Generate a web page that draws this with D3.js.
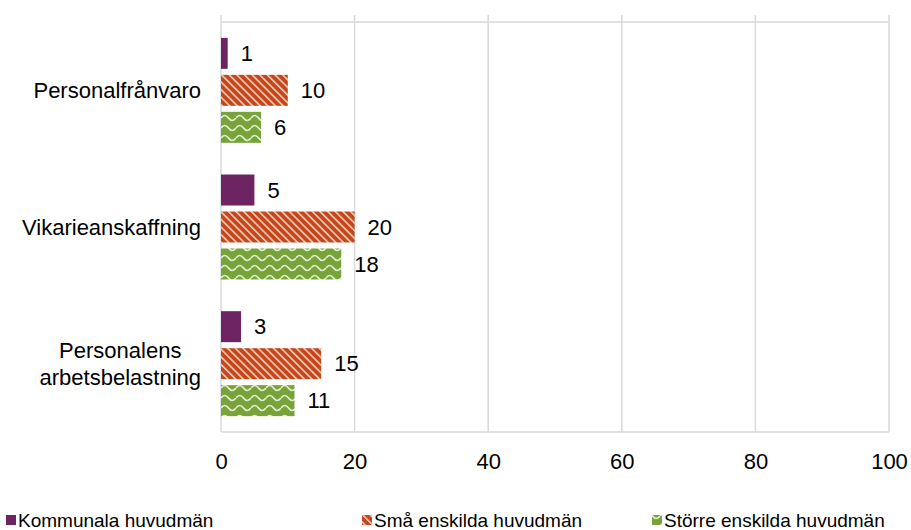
<!DOCTYPE html>
<html>
<head>
<meta charset="utf-8">
<script src="https://cdn.jsdelivr.net/npm/d3@7"></script>
<style>
  body { margin: 0; background: #fff; }
  text { font-family: "Liberation Sans", Arial, sans-serif; fill: #000; }
</style>
</head>
<body>
<div class="chart"></div>
<script>
// data
var categories = ["Personalfrånvaro", "Vikarieanskaffning", "Personalens arbetsbelastning"];
var seriesNames = ["Kommunala huvudmän", "Små enskilda huvudmän", "Större enskilda huvudmän"];
var kommunala = [1, 5, 3];
var smaEnskilda = [10, 20, 15];
var storreEnskilda = [6, 18, 11];
var xTicks = [0, 20, 40, 60, 80, 100];

var svgWidth = 911, svgHeight = 530;
var margin = { top: 22, right: 22, bottom: 98, left: 221 };
var chartWidth = svgWidth - margin.left - margin.right;
var chartHeight = svgHeight - margin.top - margin.bottom;
var fontSize = 22;
var legendFontSize = 19;

var svg = d3.select(".chart").append("svg")
    .attr("width", svgWidth)
    .attr("height", svgHeight);

// patterns
var defs = svg.append("defs");
var stripe = defs.append("pattern")
    .attr("id", "stripe")
    .attr("patternUnits", "userSpaceOnUse")
    .attr("width", 5.4).attr("height", 5.4)
    .attr("patternTransform", "rotate(-45)");
stripe.append("rect").attr("width", 5.4).attr("height", 5.4).attr("fill", "#c4461d");
stripe.append("rect").attr("x", 0).attr("width", 1.6).attr("height", 5.4).attr("fill", "#f3cdb6");

var wave = defs.append("pattern")
    .attr("id", "wave")
    .attr("patternUnits", "userSpaceOnUse")
    .attr("width", 15).attr("height", 10);
wave.append("rect").attr("width", 15).attr("height", 10).attr("fill", "#77a33a");
wave.append("path")
    .attr("d", "M0,6 Q3.75,1 7.5,6 T15,6")
    .attr("fill", "none")
    .attr("stroke", "#e2eed0")
    .attr("stroke-width", 1.7);

var fills = ["#6c2462", "url(#stripe)", "url(#wave)"];

var chart = svg.append("g")
    .attr("transform", "translate(" + margin.left + "," + margin.top + ")");

// scales
var xScale = d3.scaleLinear().domain([0, 100]).range([0, chartWidth]);
var yScale = d3.scaleBand().domain(categories).range([0, chartHeight])
    .paddingInner(0.232).paddingOuter(0.116);
var ySub = d3.scaleBand().domain(d3.range(3)).range([0, yScale.bandwidth()])
    .paddingInner(0.162);

// gridlines
chart.append("g").selectAll("line")
    .data(xTicks)
    .enter().append("line")
    .attr("x1", function(d) { return xScale(d); })
    .attr("x2", function(d) { return xScale(d); })
    .attr("y1", -7)
    .attr("y2", chartHeight)
    .attr("stroke", "#d9d9d9")
    .attr("stroke-width", 1.5);

chart.append("line")
    .attr("x1", 0).attr("x2", chartWidth)
    .attr("y1", 0).attr("y2", 0)
    .attr("stroke", "#d9d9d9").attr("stroke-width", 1.5);
chart.append("line")
    .attr("x1", 0).attr("x2", chartWidth)
    .attr("y1", chartHeight).attr("y2", chartHeight)
    .attr("stroke", "#d9d9d9").attr("stroke-width", 1.5);

// x axis
var bottomAxis = d3.axisBottom(xScale).tickValues(xTicks).tickSize(0).tickPadding(21);
var xAxisG = chart.append("g")
    .attr("transform", "translate(0," + chartHeight + ")")
    .call(bottomAxis);
xAxisG.select(".domain").remove();
xAxisG.selectAll("text")
    .attr("font-size", fontSize)
    .attr("font-family", "Liberation Sans, Arial, sans-serif")
    .attr("fill", "#000");

// bars
var seriesValues = [kommunala, smaEnskilda, storreEnskilda];
seriesValues.forEach(function(values, s) {
    var g = chart.append("g");
    g.selectAll("rect")
        .data(values)
        .enter().append("rect")
        .attr("x", 0)
        .attr("y", function(d, i) { return yScale(categories[i]) + ySub(s); })
        .attr("width", function(d) { return xScale(d); })
        .attr("height", ySub.bandwidth())
        .attr("fill", fills[s]);
    g.selectAll("text")
        .data(values)
        .enter().append("text")
        .attr("x", function(d) { return xScale(d) + 13; })
        .attr("y", function(d, i) { return yScale(categories[i]) + ySub(s) + ySub.bandwidth() / 2; })
        .attr("dy", "0.35em")
        .attr("font-size", fontSize)
        .text(function(d) { return d; });
});

// category labels
var catLines = [["Personalfrånvaro"], ["Vikarieanskaffning"], ["Personalens", "arbetsbelastning"]];
var catG = chart.append("g");
categories.forEach(function(c, i) {
    var lines = catLines[i];
    var cy = yScale(c) + yScale.bandwidth() / 2;
    var t = catG.append("text")
        .attr("font-size", fontSize)
        .attr("text-anchor", "middle")
        .attr("y", cy - (lines.length - 1) * 13.5);
    lines.forEach(function(l, k) {
        t.append("tspan").attr("x", 0).attr("dy", k === 0 ? "0.35em" : 27).text(l);
    });
    // right align the block 20px left of the axis
    var bb = t.node().getBBox();
    t.attr("transform", "translate(" + (-20 - bb.width / 2) + ",0)");
});

// legend
var legendX = [6, 362, 652];
var legend = svg.append("g").attr("transform", "translate(0,520)");
seriesNames.forEach(function(name, i) {
    legend.append("rect")
        .attr("x", legendX[i]).attr("y", -5)
        .attr("width", 10).attr("height", 10)
        .attr("fill", fills[i]);
    legend.append("text")
        .attr("x", legendX[i] + 12)
        .attr("y", 0)
        .attr("dy", "0.35em")
        .attr("font-size", legendFontSize)
        .text(name);
});
</script>
</body>
</html>
